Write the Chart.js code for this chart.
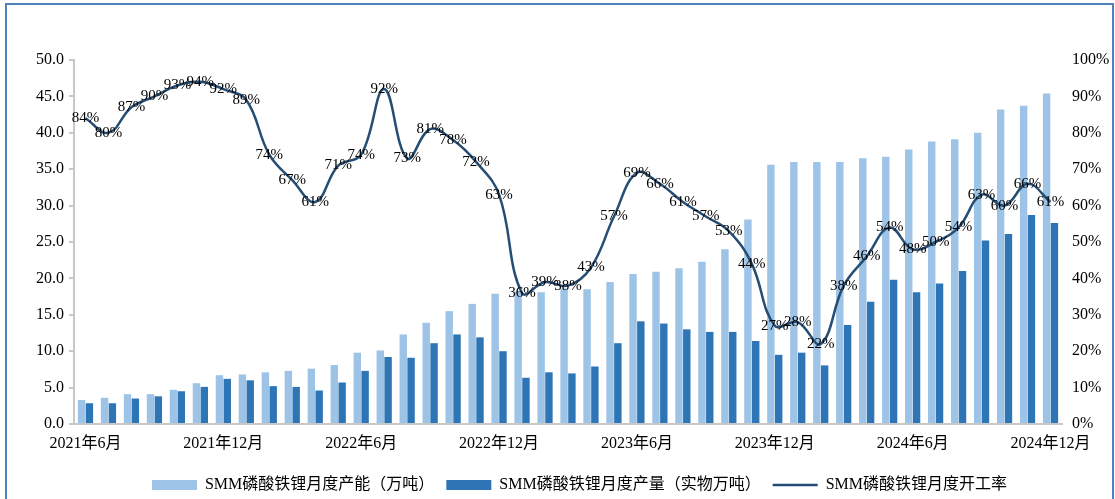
<!DOCTYPE html>
<html>
<head>
<meta charset="utf-8">
<script src="https://cdn.jsdelivr.net/npm/chart.js@4.4.1/dist/chart.umd.min.js"></script>
<style>
  html, body { margin: 0; padding: 0; background: #ffffff; }
  #wrap { position: relative; width: 1115px; height: 499px; overflow: hidden; }
  #frame { position: absolute; left: 5px; top: 3px; width: 1109px; height: 600px; box-sizing: border-box; border: 2px solid #4f81bd; pointer-events: none; }
  canvas { position: absolute; left: 0; top: 0; }
</style>
</head>
<body>
<div id="wrap">
  <canvas id="c" width="1115" height="499"></canvas>
  <div id="frame"></div>
</div>
<script>
const categories = [
  '2021年6月','2021年7月','2021年8月','2021年9月','2021年10月','2021年11月','2021年12月',
  '2022年1月','2022年2月','2022年3月','2022年4月','2022年5月','2022年6月','2022年7月','2022年8月','2022年9月','2022年10月','2022年11月','2022年12月',
  '2023年1月','2023年2月','2023年3月','2023年4月','2023年5月','2023年6月','2023年7月','2023年8月','2023年9月','2023年10月','2023年11月','2023年12月',
  '2024年1月','2024年2月','2024年3月','2024年4月','2024年5月','2024年6月','2024年7月','2024年8月','2024年9月','2024年10月','2024年11月','2024年12月'
];
const capacity = [
  3.3, 3.6, 4.1, 4.1, 4.7, 5.6, 6.7,
  6.8, 7.1, 7.3, 7.6, 8.1, 9.8, 10.1, 12.3, 13.9, 15.5, 16.5, 17.9,
  18.2, 18.1, 18.6, 18.5, 19.5, 20.6, 20.9, 21.4, 22.3, 24.0, 28.1, 35.6,
  36.0, 36.0, 36.0, 36.5, 36.7, 37.7, 38.8, 39.1, 40.0, 43.2, 43.7, 45.4
];
const output = [
  2.85, 2.85, 3.5, 3.8, 4.5, 5.1, 6.2,
  6.0, 5.2, 5.1, 4.6, 5.7, 7.3, 9.2, 9.1, 11.1, 12.3, 11.9, 10.0,
  6.35, 7.1, 6.95, 7.9, 11.1, 14.1, 13.8, 13.0, 12.65, 12.65, 11.4, 9.5,
  9.8, 8.05, 13.6, 16.8, 19.8, 18.1, 19.3, 21.0, 25.2, 26.1, 28.7, 27.6
];
const utilization = [
  84, 80, 87, 90, 93, 94, 92,
  89, 74, 67, 61, 71, 74, 92, 73, 81, 78, 72, 63,
  36, 39, 38, 43, 57, 69, 66, 61, 57, 53, 44, 27,
  28, 22, 38, 46, 54, 48, 50, 54, 63, 60, 66, 61
];
const leftTicks = { min: 0, max: 50, step: 5 };
const rightTicks = { min: 0, max: 100, step: 10 };
const seriesNames = ['SMM磷酸铁锂月度产能（万吨）', 'SMM磷酸铁锂月度产量（实物万吨）', 'SMM磷酸铁锂月度开工率'];

const FONT = "'Liberation Serif', 'Noto Sans CJK SC', serif";

const pointLabels = {
  id: 'pointLabels',
  afterDatasetsDraw(chart) {
    const ctx = chart.ctx;
    const meta = chart.getDatasetMeta(2);
    ctx.save();
    ctx.font = '15px ' + FONT;
    ctx.fillStyle = '#000000';
    ctx.textAlign = 'center';
    ctx.textBaseline = 'middle';
    meta.data.forEach((el, i) => {
      ctx.fillText(utilization[i] + '%', el.x, el.y);
    });
    ctx.restore();
  }
};

new Chart(document.getElementById('c'), {
  type: 'bar',
  data: {
    labels: categories,
    datasets: [
      { label: seriesNames[0], data: capacity, backgroundColor: '#9dc3e6', borderWidth: 0, yAxisID: 'y', order: 1,
        categoryPercentage: 0.68, barPercentage: 0.95, pointStyle: 'rect' },
      { label: seriesNames[1], data: output, backgroundColor: '#2e75b6', borderWidth: 0, yAxisID: 'y', order: 2,
        categoryPercentage: 0.68, barPercentage: 0.95, pointStyle: 'rect' },
      { type: 'line', label: seriesNames[2], data: utilization, borderColor: '#264d73', backgroundColor: '#264d73',
        borderWidth: 2.5, pointRadius: 0, tension: 0.4, yAxisID: 'y1', order: 0, pointStyle: 'line' }
    ]
  },
  options: {
    responsive: false,
    animation: false,
    layout: { padding: { top: 60, bottom: -4, left: 0, right: -44 } },
    plugins: {
      tooltip: { enabled: false },
      legend: {
        position: 'bottom',
        labels: {
          usePointStyle: true,
          pointStyleWidth: 45,
          boxHeight: 10,
          padding: 12,
          color: '#000000',
          font: { family: FONT, size: 16 },
          sort: (a, b) => a.datasetIndex - b.datasetIndex
        }
      }
    },
    scales: {
      x: {
        grid: { display: false },
        border: { display: true, color: '#c8c8c8', width: 2 },
        ticks: {
          autoSkip: false, maxRotation: 0, minRotation: 0, padding: 2,
          color: '#000000', font: { family: FONT, size: 16 },
          callback: function (v, i) { return i % 6 === 0 ? this.getLabelForValue(v) : ''; }
        },
        afterFit: (s) => { s.height = 41; }
      },
      y: {
        position: 'left',
        min: leftTicks.min, max: leftTicks.max,
        grid: { display: true, drawOnChartArea: false, drawTicks: true, tickLength: 5, color: '#c8c8c8', lineWidth: 2 },
        border: { display: true, color: '#c8c8c8', width: 2 },
        ticks: {
          stepSize: leftTicks.step, padding: 5, color: '#000000', font: { family: FONT, size: 16 },
          callback: (v) => Number(v).toFixed(1)
        },
        afterFit: (s) => { s.width = 74; }
      },
      y1: {
        position: 'right',
        min: rightTicks.min, max: rightTicks.max,
        grid: { display: false },
        border: { display: false },
        ticks: {
          stepSize: rightTicks.step, padding: 2, color: '#000000', font: { family: FONT, size: 16 },
          callback: (v) => v + '%'
        },
        afterFit: (s) => { s.width = 97; }
      }
    }
  },
  plugins: [pointLabels]
});
</script>
</body>
</html>
